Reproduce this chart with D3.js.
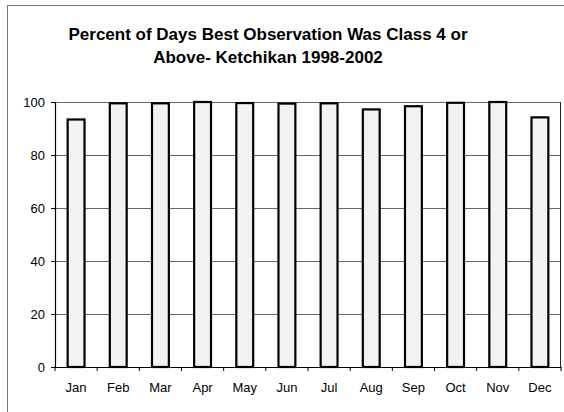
<!DOCTYPE html>
<html>
<head>
<meta charset="utf-8">
<script src="https://cdn.jsdelivr.net/npm/d3@7"></script>
<style>
  body { margin: 0; background: #fff; }
  text { font-family: "Liberation Sans", Arial, sans-serif; }
</style>
</head>
<body>
<div id="chart"></div>
<script>
///////////////////////////
// DATA
///////////////////////////

const months = ['Jan', 'Feb', 'Mar', 'Apr', 'May', 'Jun',
    'Jul', 'Aug', 'Sep', 'Oct', 'Nov', 'Dec'];
const percents = [93.4, 99.5, 99.5, 100, 99.6, 99.4,
    99.5, 97.2, 98.4, 99.7, 100, 94.2];
const yTicks = [0, 20, 40, 60, 80, 100];
const titleLines = ['Percent of Days Best Observation Was Class 4 or',
    'Above- Ketchikan 1998-2002'];

///////////////////////////
// LAYOUT
///////////////////////////

const width = 564;
const height = 412;
const plot = { left: 55, right: 561, top: 102, bottom: 367 };

let svg = d3.select('#chart')
    .append('svg')
    .attr('width', width)
    .attr('height', height);

// outer chart frame (runs off the page on the right / bottom)
svg.append('rect')
    .attr('x', 7.5)
    .attr('y', 5.5)
    .attr('width', 570)
    .attr('height', 420)
    .style('fill', 'none')
    .style('stroke', '#777')
    .style('stroke-width', 1);

let x = d3.scaleBand()
    .domain(months)
    .range([plot.left, plot.right])
    .paddingInner(0.6)
    .paddingOuter(0.3);

let y = d3.scaleLinear()
    .domain([0, 100])
    .range([plot.bottom, plot.top]);

// gridlines
svg.append('g')
    .selectAll('line')
    .data(yTicks.filter(d => d > 0))
    .enter().append('line')
    .attr('x1', plot.left)
    .attr('x2', plot.right)
    .attr('y1', d => Math.round(y(d)) + 0.5)
    .attr('y2', d => Math.round(y(d)) + 0.5)
    .style('stroke', '#666')
    .style('stroke-width', 1);

// plot border (right side)
svg.append('line')
    .attr('x1', plot.right - 0.5).attr('x2', plot.right - 0.5)
    .attr('y1', plot.top).attr('y2', plot.bottom)
    .style('stroke', '#222');

// bars
svg.append('g')
    .selectAll('.bar')
    .data(percents)
    .enter().append('rect')
    .attr('class', 'bar')
    .attr('x', (d, i) => x(months[i]))
    .attr('y', d => y(d))
    .attr('width', x.bandwidth())
    .attr('height', d => y(0) - y(d))
    .style('fill', '#f2f2f2')
    .style('stroke', '#000')
    .style('stroke-width', 2.2);

// y axis
let yAxis = svg.append('g')
    .attr('transform', `translate(${plot.left},0)`)
    .call(d3.axisLeft(y).tickValues(yTicks).tickSize(4).tickPadding(6));

// x axis with ticks between categories
let band = (plot.right - plot.left) / months.length;
let xAxis = svg.append('g')
    .attr('transform', `translate(0,${plot.bottom})`)
    .call(d3.axisBottom(x).tickSize(0).tickPadding(16));

xAxis.selectAll('.sep')
    .data(d3.range(months.length + 1))
    .enter().append('line')
    .attr('class', 'sep')
    .attr('x1', i => plot.left + i * band)
    .attr('x2', i => plot.left + i * band)
    .attr('y1', 0)
    .attr('y2', 4)
    .style('stroke', '#000');

[yAxis, xAxis].forEach(g => {
    g.select('.domain').style('stroke', '#000').style('stroke-width', 1.2);
    g.selectAll('.tick line').style('stroke', '#000');
    g.selectAll('text')
        .style('font-family', '"Liberation Sans", Arial, sans-serif')
        .style('font-size', '13px')
        .style('fill', '#000');
});

// title
svg.append('g')
    .selectAll('text')
    .data(titleLines)
    .enter().append('text')
    .attr('x', 268)
    .attr('y', (d, i) => 40 + i * 23)
    .attr('text-anchor', 'middle')
    .style('font-size', '17px')
    .style('font-weight', 'bold')
    .style('fill', '#000')
    .text(d => d);
</script>
</body>
</html>
